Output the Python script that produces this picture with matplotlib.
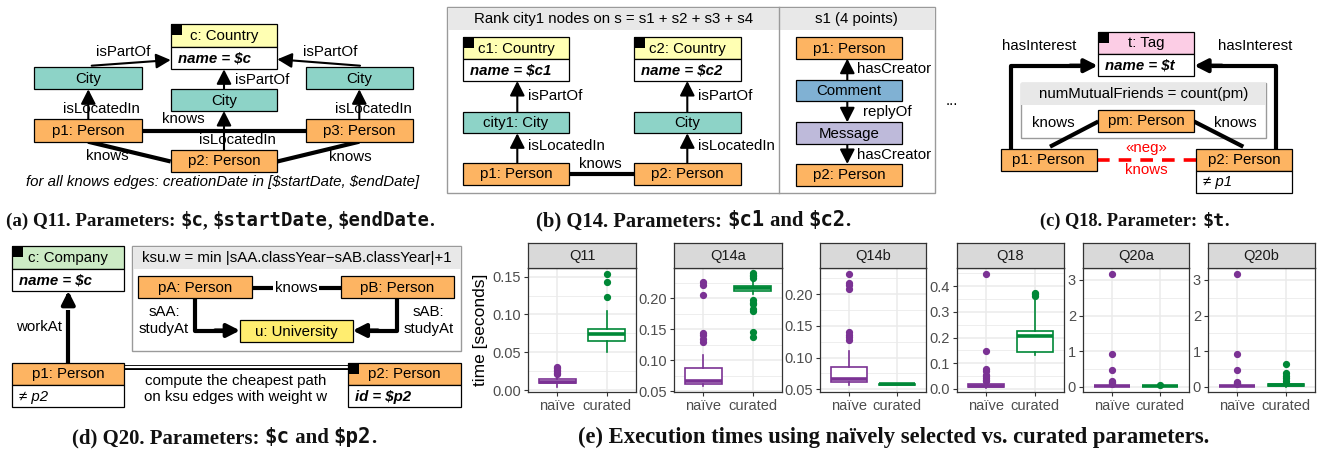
import matplotlib
matplotlib.use('Agg')
import matplotlib.pyplot as plt
from matplotlib.patches import Rectangle
from matplotlib.ticker import FixedLocator, FormatStrFormatter

plt.rcParams['text.parse_math'] = False

# ---------------- data ----------------
categories = ['naïve', 'curated']
panels = ['Q11', 'Q14a', 'Q14b', 'Q18', 'Q20a', 'Q20b']
# five-number summaries: [whisker low, q1, median, q3, whisker high]
q11_naive = [0.004, 0.009, 0.011, 0.014, 0.019]
q11_naive_out = [0.021, 0.023, 0.025, 0.027, 0.029, 0.030]
q11_curated = [0.050, 0.065, 0.074, 0.081, 0.105]
q11_curated_out = [0.123, 0.143, 0.154]
q14a_naive = [0.058, 0.061, 0.067, 0.087, 0.109]
q14a_naive_out = [0.130, 0.134, 0.141, 0.144, 0.205, 0.222, 0.226]
q14a_curated = [0.207, 0.212, 0.216, 0.220, 0.230]
q14a_curated_out = [0.137, 0.146, 0.180, 0.183, 0.190, 0.193, 0.197, 0.233, 0.236, 0.238, 0.241]
q14b_naive = [0.056, 0.061, 0.066, 0.085, 0.111]
q14b_naive_out = [0.128, 0.132, 0.136, 0.140, 0.208, 0.215, 0.218, 0.232]
q14b_curated = [0.0570, 0.0574, 0.0578, 0.0584, 0.0590]
q14b_curated_out = []
q18_naive = [0.002, 0.009, 0.013, 0.018, 0.026]
q18_naive_out = [0.030, 0.036, 0.043, 0.050, 0.056, 0.068, 0.078, 0.149, 0.448]
q18_curated = [0.132, 0.144, 0.206, 0.225, 0.346]
q18_curated_out = [0.362, 0.368, 0.372]
q20a_naive = [0.0, 0.005, 0.012, 0.025, 0.05]
q20a_naive_out = [0.07, 0.09, 0.12, 0.15, 0.46, 0.93, 3.16]
q20a_curated = [0.005, 0.012, 0.018, 0.025, 0.035]
q20a_curated_out = [0.04]
q20b_naive = [0.0, 0.005, 0.012, 0.025, 0.05]
q20b_naive_out = [0.07, 0.09, 0.11, 0.14, 0.46, 0.91, 3.16]
q20b_curated = [0.0, 0.025, 0.045, 0.065, 0.10]
q20b_curated_out = [0.11, 0.17, 0.236, 0.31, 0.376, 0.63]

y_ticks = [[0, 0.05, 0.10, 0.15], [0.05, 0.10, 0.15, 0.20], [0.05, 0.10, 0.15, 0.20],
           [0, 0.1, 0.2, 0.3, 0.4], [0, 1, 2, 3], [0, 1, 2, 3]]
y_fmt = ['%.2f', '%.2f', '%.2f', '%.1f', '%d', '%d']
y_lims = [(-0.0026, 0.1615), (0.0484, 0.249), (0.0457, 0.2415),
          (-0.0117, 0.47), (-0.15, 3.337), (-0.15, 3.337)]

naive_stats = [q11_naive, q14a_naive, q14b_naive, q18_naive, q20a_naive, q20b_naive]
naive_out = [q11_naive_out, q14a_naive_out, q14b_naive_out, q18_naive_out, q20a_naive_out, q20b_naive_out]
cur_stats = [q11_curated, q14a_curated, q14b_curated, q18_curated, q20a_curated, q20b_curated]
cur_out = [q11_curated_out, q14a_curated_out, q14b_curated_out, q18_curated_out, q20a_curated_out, q20b_curated_out]

# ---------------- figure ----------------
W, H = 1318, 450
fig = plt.figure(figsize=(W / 100, H / 100), dpi=100)
ax = fig.add_axes([0, 0, 1, 1], zorder=0)
ax.set_xlim(0, W)
ax.set_ylim(H, 0)
ax.axis('off')
R = fig.canvas.get_renderer()

SANS = 'Liberation Sans'
FS = 10.8
ORANGE = '#FDB462'; TEAL = '#8DD3C7'; LYEL = '#FFFFB3'; PINK = '#FCCDE5'
LGREEN = '#CCEBC5'; UYEL = '#FFED6F'; BLUE = '#80B1D3'; LAV = '#BEBADA'
GREYH = '#E8E8E8'; FRAME = '#9A9A9A'


def txt(x, y, s, ha='center', style='normal', weight='normal', color='black', fs=FS, **kw):
    return ax.text(x, y, s, ha=ha, va='center', fontsize=fs, family=SANS,
                   style=style, weight=weight, color=color, zorder=6, **kw)


def node(x0, x1, y0, y1, label, fill, y2=None, body=None, body_bold=True, corner=False):
    ax.add_patch(Rectangle((x0, y0), x1 - x0, y1 - y0, fc=fill, ec='black', lw=0.9, zorder=4))
    txt((x0 + x1) / 2, (y0 + y1) / 2 + 0.5, label)
    if y2 is not None:
        ax.add_patch(Rectangle((x0, y1), x1 - x0, y2 - y1, fc='white', ec='black', lw=0.9, zorder=4))
        if body:
            txt(x0 + 7, (y1 + y2) / 2 + 0.5, body, ha='left', style='italic',
                weight='bold' if body_bold else 'normal')
    if corner:
        ax.add_patch(Rectangle((x0, y0), 11, 11, fc='black', ec='none', zorder=5))


def line(pts, lw=3.0, color='black', ls='-', z=2):
    xs = [p[0] for p in pts]; ys = [p[1] for p in pts]
    ax.plot(xs, ys, color=color, lw=lw, ls=ls, solid_capstyle='butt', zorder=z)


def arrow(p_from, p_to, lw=1.5, ms=16):
    ax.annotate('', xy=p_to, xytext=p_from, zorder=3,
                arrowprops=dict(arrowstyle='-|>,head_length=0.55,head_width=0.28', lw=lw,
                                color='black', mutation_scale=ms, shrinkA=0, shrinkB=0))


def frame(x0, x1, y0, y1, yh, title, tx=None):
    ax.add_patch(Rectangle((x0, y0), x1 - x0, y1 - y0, fc='white', ec=FRAME, lw=1.0, zorder=1))
    ax.add_patch(Rectangle((x0 + 0.5, y0 + 0.5), x1 - x0 - 1, yh - y0 - 0.5, fc=GREYH, ec='none', zorder=1))
    txt((x0 + x1) / 2 if tx is None else tx, (y0 + yh) / 2 + 0.5, title)


# ---- (a) Q11 ----
node(170.7, 277.3, 24.3, 46.7, 'c: Country', LYEL, 69.3, 'name = $c', corner=True)
node(34.3, 142.3, 66.7, 89.3, 'City', TEAL)
node(170.7, 277.3, 89.3, 111, 'City', TEAL)
node(306, 413.3, 66.7, 89.3, 'City', TEAL)
node(34.3, 142.3, 119.3, 141.7, 'p1: Person', ORANGE)
node(306, 413.3, 119.3, 141.7, 'p3: Person', ORANGE)
node(170.7, 277.3, 150, 171.7, 'p2: Person', ORANGE)
line([(142.3, 131), (306, 131)])
line([(88, 141.7), (170.7, 161.5)])
line([(359.3, 141.7), (277.3, 161.5)])
arrow((88.3, 119.3), (88.3, 89.3))
arrow((359.3, 119.3), (359.3, 89.3))
arrow((224, 150), (224, 111))
arrow((224, 89.3), (224, 69.3))
arrow((91.7, 65.7), (170.7, 60))
arrow((360, 65.7), (277.3, 59.3))
txt(123, 52, 'isPartOf'); txt(330, 52, 'isPartOf'); txt(235, 80, 'isPartOf', ha='left')
txt(101.7, 109.3, 'isLocatedIn'); txt(373, 109.3, 'isLocatedIn'); txt(237.3, 140, 'isLocatedIn')
txt(183, 119.3, 'knows'); txt(107, 156, 'knows'); txt(350.7, 156.7, 'knows')
txt(223, 181.7, 'for all knows edges: creationDate in [$startDate, $endDate]', style='italic')

# ---- (b) Q14 ----
ax.add_patch(Rectangle((447.3, 7.3), 935 - 447.3, 192.7 - 7.3, fc='white', ec=FRAME, lw=1.0, zorder=1))
ax.add_patch(Rectangle((447.8, 7.8), 935 - 448.3, 30 - 7.8, fc=GREYH, ec='none', zorder=1))
ax.plot([779.3, 779.3], [7.3, 192.7], color=FRAME, lw=1.0, zorder=1)
txt(613.3, 19.3, 'Rank city1 nodes on s = s1 + s2 + s3 + s4')
txt(856.7, 19.3, 's1 (4 points)')
node(462.7, 569.3, 37.3, 59.3, 'c1: Country', LYEL, 81, 'name = $c1', corner=True)
node(634, 740.7, 37.3, 59.3, 'c2: Country', LYEL, 81, 'name = $c2', corner=True)
node(462.7, 569.3, 111.7, 133.3, 'city1: City', TEAL)
node(634, 740.7, 111.7, 133.3, 'City', TEAL)
node(462.7, 569.3, 162.7, 185, 'p1: Person', ORANGE)
node(634, 740.7, 162.7, 185, 'p2: Person', ORANGE)
arrow((517.3, 111.7), (517.3, 81)); arrow((687.3, 111.7), (687.3, 81))
arrow((517.3, 162.7), (517.3, 133.3)); arrow((687.3, 162.7), (687.3, 133.3))
txt(528.3, 96, 'isPartOf', ha='left'); txt(698.3, 96, 'isPartOf', ha='left')
txt(528.3, 145.7, 'isLocatedIn', ha='left'); txt(698.3, 145.7, 'isLocatedIn', ha='left')
line([(569.3, 174), (634, 174)])
txt(600.7, 164.5, 'knows')
node(796, 901.7, 37.3, 58.7, 'p1: Person', ORANGE)
node(796, 901.7, 80, 101, 'Comment', BLUE)
node(796, 901.7, 122.3, 144.3, 'Message', LAV)
node(796, 901.7, 164, 186, 'p2: Person', ORANGE)
arrow((847.3, 80), (847.3, 58.7)); arrow((847.3, 101), (847.3, 122.3)); arrow((847.3, 144.3), (847.3, 164))
txt(856.7, 69.3, 'hasCreator', ha='left'); txt(862.7, 112, 'replyOf', ha='left')
txt(856.7, 155, 'hasCreator', ha='left')
txt(951.7, 101, '...')

# ---- (c) Q18 ----
frame(1020.7, 1266, 82.7, 138.3, 105, 'numMutualFriends = count(pm)')
node(1097.7, 1194.3, 31.7, 54, 't: Tag', PINK, 76, 'name = $t', corner=True)
node(1098.3, 1194, 110, 131.7, 'pm: Person', ORANGE)
node(1000.7, 1096.7, 149, 170.7, 'p1: Person', ORANGE)
node(1196, 1291.7, 149, 170.7, 'p2: Person', ORANGE, 192.7, '≠ p1', body_bold=False)
line([(1010.7, 149), (1010.7, 65.7), (1080, 65.7)])
arrow((1070, 65.7), (1097.7, 65.7), lw=3.0, ms=14)
line([(1276, 149), (1276, 65.7), (1212, 65.7)])
arrow((1222, 65.7), (1194.3, 65.7), lw=3.0, ms=14)
txt(1039.3, 45.7, 'hasInterest'); txt(1255, 45.7, 'hasInterest')
line([(1050, 146.7), (1098.3, 121.5)])
line([(1194, 121.5), (1243.3, 146.7)])
txt(1053.3, 122.7, 'knows'); txt(1235, 122.7, 'knows')
line([(1096.7, 159.5), (1196, 159.5)], lw=2.6, color='#FF0000', ls=(0, (3.5, 2.5)))
txt(1146, 148, '«neg»', color='#FF0000'); txt(1146, 170, 'knows', color='#FF0000')

# ---- (d) Q20 ----
frame(132.3, 461, 246, 350.7, 269.3, 'ksu.w = min |sAA.classYear\u2212sAB.classYear|+1')
node(11.7, 124.3, 246, 269.3, 'c: Company', LGREEN, 291, 'name = $c', corner=True)
node(11.7, 124.3, 362.7, 385, 'p1: Person', ORANGE, 407.3, '≠ p2', body_bold=False)
node(347.7, 461, 362.7, 385, 'p2: Person', ORANGE, 407.3, 'id = $p2', corner=True)
line([(68.3, 362.7), (68.3, 310)])
arrow((68.3, 300), (68.3, 291), lw=3.0, ms=14)
txt(39.3, 326.7, 'workAt')
line([(124.3, 367.2), (347.7, 367.2)], lw=3.6)
line([(124.3, 367.2), (347.7, 367.2)], lw=1.6, color='white', z=2.5)
txt(236, 381, 'compute the cheapest path'); txt(236, 396.7, 'on ksu edges with weight w')
node(138.3, 251.7, 276, 298.3, 'pA: Person', ORANGE)
node(340.7, 454, 276, 298.3, 'pB: Person', ORANGE)
node(240, 352.7, 320, 342.3, 'u: University', UYEL)
line([(251.7, 287.7), (340.7, 287.7)])
txt(296, 287.7, 'knows', bbox=dict(fc='white', ec='none', pad=1.5))
line([(195, 298.3), (195, 330.5), (225, 330.5)])
arrow((215, 330.5), (240, 330.5), lw=3.0, ms=14)
line([(396.7, 298.3), (396.7, 330.5), (368, 330.5)])
arrow((378, 330.5), (352.7, 330.5), lw=3.0, ms=14)
txt(164, 311.7, 'sAA:'); txt(164, 329.3, 'studyAt')
txt(428.3, 311.7, 'sAB:'); txt(428.3, 329.3, 'studyAt')

# ---------------- captions ----------------
STY = {'s': dict(family='Liberation Serif', weight='bold'),
       'm': dict(family='DejaVu Sans Mono', weight='bold')}


def measure(s, fs, kind):
    t1 = ax.text(0, 0, '|' + s + '|', fontsize=fs, **STY[kind])
    t2 = ax.text(0, 0, '||', fontsize=fs, **STY[kind])
    w = t1.get_window_extent(R).width - t2.get_window_extent(R).width
    t1.remove(); t2.remove()
    return w


def caption(xc, y, runs, target):
    fs = 12.0
    tot = sum(measure(s, fs, k) for s, k in runs)
    fs = fs * target / tot
    ws = [measure(s, fs, k) for s, k in runs]
    x = xc - sum(ws) / 2
    for (s, k), w in zip(runs, ws):
        ax.text(x, y, s, fontsize=fs, ha='left', va='baseline', color='#111111', **STY[k])
        x += w


caption(220, 226, [('(a) Q11. Parameters: ', 's'), ('$c', 'm'), (', ', 's'), ('$startDate', 'm'),
                   (', ', 's'), ('$endDate', 'm'), ('.', 's')], 426)
caption(693.3, 226, [('(b) Q14. Parameters: ', 's'), ('$c1', 'm'), (' and ', 's'), ('$c2', 'm'), ('.', 's')], 313)
caption(1134.7, 226, [('(c) Q18. Parameter: ', 's'), ('$t', 'm'), ('.', 's')], 187)
caption(224, 443, [('(d) Q20. Parameters: ', 's'), ('$c', 'm'), (' and ', 's'), ('$p2', 'm'), ('.', 's')], 302)
caption(894, 443, [('(e) Execution times using naïvely selected vs. curated parameters.', 's')], 628)

# ---------------- box plots ----------------
panel_x = [(528, 636), (674, 782), (820, 926), (957, 1064), (1083, 1189), (1208, 1315)]
STRIP_TOP, PANEL_TOP, PANEL_BOT = 243, 268, 392
PURPLE, GREEN = '#7B3294', '#008837'
TFS = 10.5


def stats(v, out):
    return dict(whislo=v[0], q1=v[1], med=v[2], q3=v[3], whishi=v[4], fliers=out)


for i, name in enumerate(panels):
    x0, x1 = panel_x[i]
    pax = fig.add_axes([x0 / W, 1 - PANEL_BOT / H, (x1 - x0) / W, (PANEL_BOT - PANEL_TOP) / H], zorder=3)
    sax = fig.add_axes([x0 / W, 1 - PANEL_TOP / H, (x1 - x0) / W, (PANEL_TOP - STRIP_TOP) / H], zorder=3)
    sax.set_facecolor('#D9D9D9')
    sax.set_xticks([]); sax.set_yticks([])
    for sp in sax.spines.values():
        sp.set_color('#333333'); sp.set_linewidth(0.9)
    sax.text(0.5, 0.47, name, ha='center', va='center', fontsize=TFS, family=SANS,
             color='#1A1A1A', transform=sax.transAxes)

    for pos, st, out, col in [(1, naive_stats[i], naive_out[i], PURPLE), (2, cur_stats[i], cur_out[i], GREEN)]:
        pax.bxp([stats(st, out)], positions=[pos], widths=0.75, patch_artist=True, showcaps=False,
                boxprops=dict(facecolor='white', edgecolor=col, lw=1.2),
                whiskerprops=dict(color=col, lw=1.2),
                medianprops=dict(color=col, lw=2.6, solid_capstyle='butt'),
                flierprops=dict(marker='o', mfc=col, mec=col, ms=4.2, ls='none'),
                manage_ticks=False, zorder=3)
    pax.set_xlim(0.4, 2.6)
    pax.set_ylim(*y_lims[i])
    pax.set_xticks([1, 2])
    pax.set_xticklabels(categories)
    pax.yaxis.set_major_locator(FixedLocator(y_ticks[i]))
    yt = y_ticks[i]
    step = yt[1] - yt[0]
    minors = [t + step / 2 for t in yt if t + step / 2 < y_lims[i][1]]
    if yt[0] - step / 2 > y_lims[i][0]:
        minors.insert(0, yt[0] - step / 2)
    pax.yaxis.set_minor_locator(FixedLocator(minors))
    pax.yaxis.set_major_formatter(FormatStrFormatter(y_fmt[i]))
    pax.set_axisbelow(True)
    pax.grid(which='major', color='#EBEBEB', lw=1.1)
    pax.grid(which='minor', axis='y', color='#EBEBEB', lw=0.6)
    pax.tick_params(which='minor', length=0)
    pax.tick_params(which='major', length=3, width=0.8, color='#333333', labelcolor='#4D4D4D',
                    labelsize=TFS, pad=2)
    for lab in pax.get_xticklabels() + pax.get_yticklabels():
        lab.set_family(SANS)
    for sp in pax.spines.values():
        sp.set_color('#333333'); sp.set_linewidth(0.9)

fig.text(481 / W, 1 - 330 / H, 'time [seconds]', rotation=90, ha='center', va='center',
         fontsize=12.5, family=SANS, color='black')

fig.savefig('out.png', dpi=100)
